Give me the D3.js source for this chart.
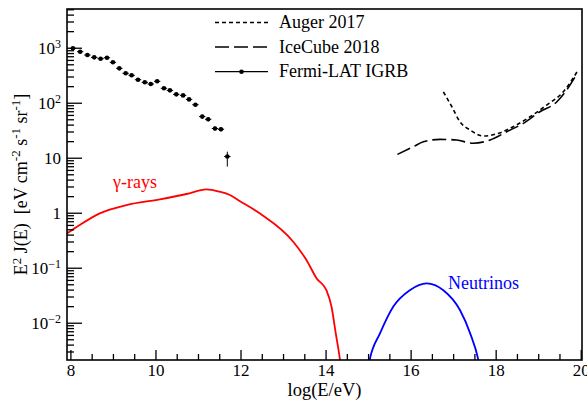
<!DOCTYPE html>
<html>
<head>
<meta charset="utf-8">
<script src="https://cdn.jsdelivr.net/npm/d3@7"></script>
<style>
  html, body { margin: 0; padding: 0; background: #fff; }
  text { font-family: "Liberation Serif", "Times New Roman", serif; }
</style>
</head>
<body>
<svg id="chart" width="587" height="400"></svg>
<script>
// ---------------- data ----------------
const fermiX = [8.06, 8.23, 8.40, 8.56, 8.71, 8.86, 9.00, 9.15, 9.30, 9.44, 9.59, 9.75, 9.89,
                10.04, 10.20, 10.34, 10.49, 10.65, 10.79, 10.94, 11.10, 11.24, 11.40, 11.54, 11.69];
const fermiY = [975, 846, 736, 668, 631, 658, 543, 422, 343, 315, 262, 235, 219,
                245, 183, 168, 142, 136, 115, 92, 56, 50, 34, 33, 10.5];
const fermiYLow  = [915, 795, 692, 628, 593, 618, 510, 397, 322, 296, 246, 221, 206,
                    230, 172, 158, 133, 128, 108, 86, 52, 46, 31, 30, 6.9];
const fermiYHigh = [1035, 897, 780, 708, 669, 698, 576, 447, 364, 334, 278, 249, 232,
                    260, 194, 178, 151, 144, 122, 98, 60, 54, 37, 36, 12.9];
const fermiXHalfWidth = [0.075];

const augerX = [16.77, 16.97, 17.16, 17.40, 17.71, 18.02, 18.41, 18.81, 19.20, 19.59, 19.94];
const augerY = [158, 84.5, 45.2, 31.9, 24.8, 27.1, 36.6, 55.6, 90.8, 158, 394];

const icecubeX = [15.69, 16.06, 16.30, 16.69, 17.08, 17.47, 17.87, 18.26, 18.65, 19.04, 19.44, 19.67, 19.87];
const icecubeY = [11.5, 15.8, 19.5, 21.6, 21.0, 18.3, 21.0, 29.7, 42.2, 68.5, 104, 170, 297];

const gammaX = [7.90, 8.22, 8.69, 9.32, 10.10, 10.73, 11.20, 11.51, 11.75, 11.98, 12.45,
                13.24, 13.55, 13.79, 14.02, 14.14, 14.24, 14.34, 14.38];
const gammaY = [0.41, 0.60, 0.975, 1.38, 1.75, 2.19, 2.66, 2.41, 2.10, 1.64, 0.975,
                0.297, 0.138, 0.064, 0.039, 0.0195, 0.0064, 0.0021, 0.0012];

const nuX = [15.00, 15.04, 15.28, 15.59, 15.98, 16.38, 16.77, 17.16, 17.40, 17.59, 17.63];
const nuY = [0.0015, 0.00216, 0.0064, 0.0195, 0.039, 0.052, 0.039, 0.017, 0.0064, 0.00216, 0.0015];

const xMajorTicks = [8, 10, 12, 14, 16, 18, 20];
const xMinorTicks = [8.5, 9, 9.5, 10.5, 11, 11.5, 12.5, 13, 13.5, 14.5, 15, 15.5, 16.5, 17, 17.5, 18.5, 19, 19.5];
const yMajorTicks = [1e-2, 1e-1, 1, 10, 1e2, 1e3];
const yTickLabels = [["10", "\u22122"], ["10", "\u22121"], ["1", ""], ["10", ""], ["10", "2"], ["10", "3"]];

const legendLabels = ["Auger 2017", "IceCube 2018", "Fermi-LAT IGRB"];

// ---------------- layout ----------------
const svg = d3.select("#chart");
const L = 67, R = 582, T = 9, B = 360;
const x = d3.scaleLinear().domain([7.92, 20.03]).range([L, R]);
const y = d3.scaleLog().domain([0.0021, 5060]).range([B, T]);

svg.append("rect").attr("width", 587).attr("height", 400).attr("fill", "#fff");

svg.append("defs").append("clipPath").attr("id", "clip")
  .append("rect").attr("x", L).attr("y", T).attr("width", R - L).attr("height", B - T);

const plot = svg.append("g").attr("clip-path", "url(#clip)");

// curves
const lineGen = d3.line().x(d => x(d[0])).y(d => y(d[1])).curve(d3.curveMonotoneX);

plot.append("path").datum(d3.zip(gammaX, gammaY))
  .attr("d", lineGen).attr("fill", "none").attr("stroke", "#ff0000").attr("stroke-width", 1.8);

plot.append("path").datum(d3.zip(nuX, nuY))
  .attr("d", lineGen).attr("fill", "none").attr("stroke", "#0000ff").attr("stroke-width", 1.8);

plot.append("path").datum(d3.zip(augerX, augerY))
  .attr("d", lineGen).attr("fill", "none").attr("stroke", "#000").attr("stroke-width", 1.6)
  .attr("stroke-dasharray", "4,3");

plot.append("path").datum(d3.zip(icecubeX, icecubeY))
  .attr("d", lineGen).attr("fill", "none").attr("stroke", "#000").attr("stroke-width", 1.6)
  .attr("stroke-dasharray", "14,5");

// Fermi points
const fermi = d3.range(fermiX.length).map(i => ({x: fermiX[i], y: fermiY[i], lo: fermiYLow[i], hi: fermiYHigh[i]}));
const fg = plot.append("g");
fg.selectAll("line.h").data(fermi).join("line")
  .attr("x1", d => x(d.x - fermiXHalfWidth[0])).attr("x2", d => x(d.x + fermiXHalfWidth[0]))
  .attr("y1", d => y(d.y)).attr("y2", d => y(d.y))
  .attr("stroke", "#000").attr("stroke-width", 1);
fg.selectAll("line.v").data(fermi).join("line")
  .attr("x1", d => x(d.x)).attr("x2", d => x(d.x))
  .attr("y1", d => y(d.lo)).attr("y2", d => y(d.hi))
  .attr("stroke", "#000").attr("stroke-width", 1);
fg.selectAll("circle").data(fermi).join("circle")
  .attr("cx", d => x(d.x)).attr("cy", d => y(d.y)).attr("r", 2.3).attr("fill", "#000");

// axes
const xAxisG = svg.append("g").attr("transform", `translate(0,${B})`)
  .call(d3.axisBottom(x).tickValues(xMajorTicks).tickSize(-10).tickSizeOuter(0).tickPadding(4).tickFormat(d3.format("d")));
xAxisG.select(".domain").remove();
xAxisG.selectAll("text").attr("font-size", 17).attr("fill", "#000")
  .style("font-family", "'Liberation Serif', serif");
xAxisG.selectAll("line").attr("stroke-width", 1.3);

const xMinorG = svg.append("g").attr("transform", `translate(0,${B})`)
  .call(d3.axisBottom(x).tickValues(xMinorTicks).tickSize(-6).tickSizeOuter(0).tickFormat(""));
xMinorG.select(".domain").remove();
xMinorG.selectAll("line").attr("stroke-width", 1.3);

const yAxisG = svg.append("g").attr("transform", `translate(${L},0)`)
  .call(d3.axisLeft(y).tickValues(yMajorTicks).tickSize(-15).tickSizeOuter(0).tickPadding(6).tickFormat(""));
yAxisG.select(".domain").remove();
yAxisG.selectAll("line").attr("stroke-width", 1.3);
yAxisG.selectAll(".tick text").each(function(d, i) {
  const t = d3.select(this).attr("font-size", 17).attr("fill", "#000")
    .style("font-family", "'Liberation Serif', serif");
  const lab = yTickLabels[i];
  t.text(null);
  t.append("tspan").text(lab[0]);
  if (lab[1]) t.append("tspan").attr("font-size", 12).attr("dy", "-0.45em").text(lab[1]);
});

const yMinor = [];
for (let n = -3; n <= 3; n++) for (let k = 2; k <= 9; k++) {
  const v = k * Math.pow(10, n);
  if (v > 0.0021 && v < 5060) yMinor.push(v);
}
const yMinorG = svg.append("g").attr("transform", `translate(${L},0)`)
  .call(d3.axisLeft(y).tickValues(yMinor).tickSize(-7).tickSizeOuter(0).tickFormat(""));
yMinorG.select(".domain").remove();
yMinorG.selectAll("line").attr("stroke-width", 1.3);

// frame
svg.append("rect").attr("x", L).attr("y", T).attr("width", R - L).attr("height", B - T)
  .attr("fill", "none").attr("stroke", "#000").attr("stroke-width", 1.6);

// axis titles
svg.append("text").attr("x", (L + R) / 2).attr("y", 396).attr("text-anchor", "middle")
  .attr("font-size", 18.5).text("log(E/eV)");

const yt = svg.append("text").attr("transform", `translate(27,${(T + B) / 2}) rotate(-90)`)
  .attr("text-anchor", "middle").attr("font-size", 18).style("white-space", "pre");
const parts = [["E", 0], ["2", 1], [" J(E)  [eV cm", 0], ["-2", 1], [" s", 0], ["-1", 1], [" sr", 0], ["-1", 1], ["]", 0]];
let prevSup = false;
parts.forEach(([s, sup]) => {
  const ts = yt.append("tspan").text(s);
  if (sup) { ts.attr("font-size", 13).attr("dy", "-0.5em"); prevSup = true; }
  else if (prevSup) { ts.attr("dy", "0.36em"); prevSup = false; }
});

// curve labels
svg.append("text").attr("x", 113).attr("y", 188).attr("font-size", 18).attr("fill", "#ff0000").text("\u03b3-rays");
svg.append("text").attr("x", 448).attr("y", 289).attr("font-size", 18).attr("fill", "#0000ff").text("Neutrinos");

// legend
const legY = [22.5, 47, 71.7];
const lg = svg.append("g");
lg.append("line").attr("x1", 215).attr("x2", 268).attr("y1", legY[0]).attr("y2", legY[0])
  .attr("stroke", "#000").attr("stroke-width", 1.6).attr("stroke-dasharray", "4,3");
lg.append("line").attr("x1", 215).attr("x2", 268).attr("y1", legY[1]).attr("y2", legY[1])
  .attr("stroke", "#000").attr("stroke-width", 1.6).attr("stroke-dasharray", "14,5");
lg.append("line").attr("x1", 215).attr("x2", 268).attr("y1", legY[2]).attr("y2", legY[2])
  .attr("stroke", "#000").attr("stroke-width", 1.2);
lg.append("circle").attr("cx", 241.5).attr("cy", legY[2]).attr("r", 2.3).attr("fill", "#000");
legendLabels.forEach((s, i) => {
  lg.append("text").attr("x", 279).attr("y", legY[i] + 5.5).attr("font-size", 18).text(s);
});
</script>
</body>
</html>
